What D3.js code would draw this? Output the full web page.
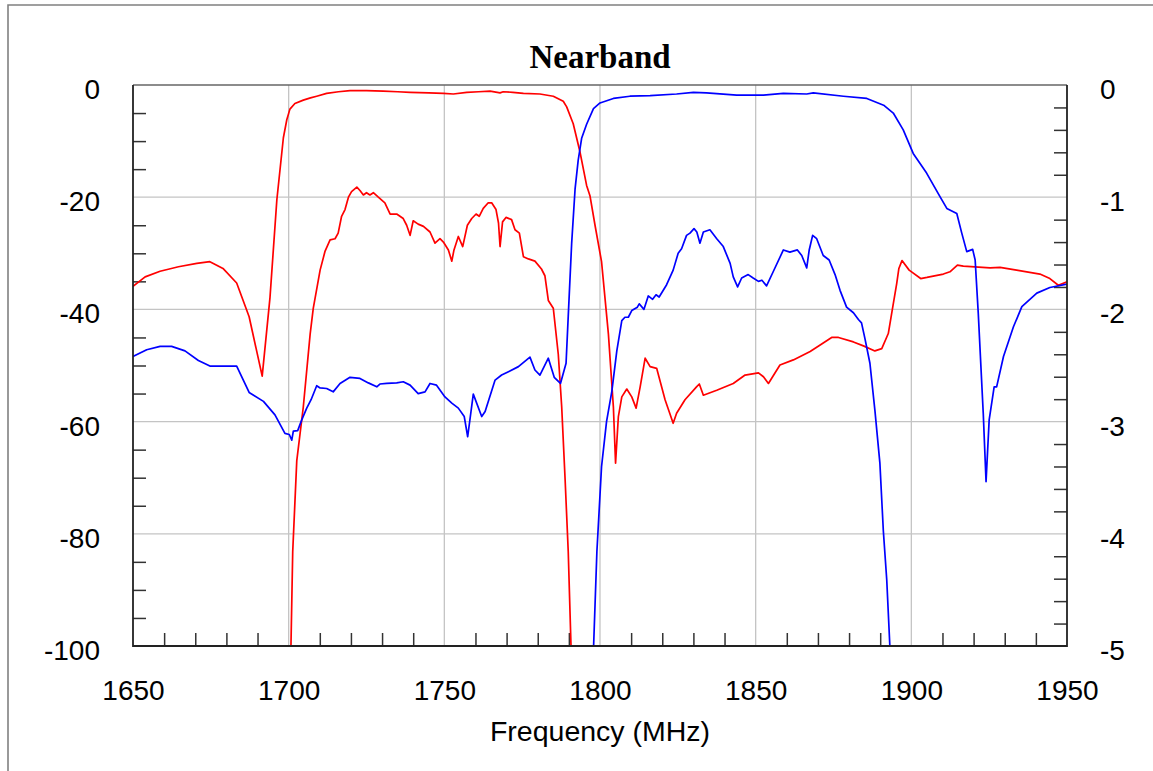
<!DOCTYPE html>
<html>
<head>
<meta charset="utf-8">
<script src="https://cdn.jsdelivr.net/npm/d3@7"></script>
<style>
  html, body { margin: 0; padding: 0; background: #fff; }
  svg { display: block; }
</style>
</head>
<body>
<svg id="chart" width="1153" height="771"></svg>
<script>
// [frequency MHz, dB] - full response of the two filters, left axis
const redS21 = [
  [1650,-35.9],[1653.9,-34.2],[1658.7,-33.2],[1664.6,-32.4],[1670.5,-31.8],[1674.7,-31.5],[1678.9,-32.7],
  [1683.3,-35.3],[1687.3,-41.3],[1691.5,-51.9],[1694.0,-37.9],[1696.2,-20.5],[1698.3,-9.4],[1699.4,-6.2],
  [1700.4,-4.3],[1702,-3.3],[1704.7,-2.7],[1707,-2.3],[1709,-2.0],[1712.2,-1.5],[1716,-1.2],[1719.7,-1.0],
  [1725,-1.0],[1730.4,-1.1],[1735,-1.2],[1739,-1.3],[1745,-1.4],[1749.7,-1.5],[1752.9,-1.6],[1757.2,-1.3],
  [1761,-1.2],[1764.7,-1.1],[1767.9,-1.4],[1768.9,-1.2],[1772,-1.3],[1775.4,-1.5],[1780.7,-1.6],[1785,-2.0],
  [1788.2,-2.9],[1789.3,-3.9],[1791.4,-6.9],[1793.6,-12.0],[1795.7,-17.9],[1796.8,-19.8],[1798.4,-25],
  [1800.5,-31.5],[1802.7,-44.4],[1804.3,-57.4],[1805.0,-67.4],[1805.9,-59.1],[1807,-55.6],[1808.6,-54.2],
  [1810.2,-55.6],[1811.6,-57.6],[1812.9,-53.8],[1814.5,-48.7],[1816.1,-50.2],[1818.2,-50.5],[1820.9,-56.1],
  [1823.5,-60.3],[1824.6,-58.5],[1827.3,-56.1],[1831,-53.8],[1831.9,-53.3],[1833.2,-55.3],[1837.5,-54.4],
  [1842.8,-53.2],[1846.6,-51.7],[1850.9,-51.3],[1852.5,-52.0],[1854.1,-53.2],[1857.8,-49.9],[1862.1,-49.0],
  [1867.5,-47.5],[1871.7,-46.0],[1874.4,-45.0],[1876.6,-45.0],[1881.4,-45.8],[1884.6,-46.5],[1888.3,-47.4],
  [1890.5,-47.0],[1892.6,-44.3],[1894.2,-39],[1895.3,-35.4],[1896.0,-32.7],[1897.0,-31.3],[1899.3,-33.0],
  [1903,-34.5],[1905,-34.3],[1910.3,-33.7],[1912.4,-33.3],[1914.8,-32.1],[1916.7,-32.3],[1925.3,-32.6],
  [1928.5,-32.5],[1933.8,-33.0],[1941.3,-33.7],[1944.5,-34.5],[1947.2,-35.7],[1950,-35.1]
];

const blueS21 = [
  [1650,-48.4],[1654.4,-47.2],[1658.7,-46.6],[1662.4,-46.6],[1666.7,-47.4],[1671,-49.1],[1674.7,-50.1],
  [1683.3,-50.1],[1687.3,-54.8],[1691.9,-56.4],[1695.6,-58.8],[1698.8,-62.1],[1700.2,-62.3],[1701,-63.3],
  [1701.5,-61.7],[1702.9,-61.6],[1704.2,-59.7],[1705.8,-57.6],[1707.2,-56.1],[1709,-53.6],[1710.1,-54.0],
  [1712.2,-54.1],[1714.3,-54.7],[1716.5,-53.2],[1719.7,-52.1],[1722.9,-52.3],[1725.6,-53.1],[1728.3,-53.8],
  [1729.3,-53.3],[1731.5,-53.2],[1734.7,-53.1],[1736.8,-52.9],[1739,-53.5],[1741.6,-55.0],[1743.8,-54.7],
  [1745.4,-53.2],[1747.5,-53.5],[1750.2,-55.6],[1752.4,-56.7],[1754.5,-57.6],[1756.4,-59.1],[1757.5,-62.7],
  [1759.3,-55.1],[1762,-59.1],[1763.1,-58.2],[1766.3,-52.6],[1768.4,-51.7],[1770.6,-51.1],[1773.8,-50.2],
  [1777.5,-48.5],[1779.1,-50.8],[1780.7,-51.7],[1783.4,-48.7],[1785.3,-52.1],[1787.3,-53.2],[1789.1,-49.6],
  [1789.8,-41.2],[1790.9,-28.2],[1792,-18.5],[1793,-13.4],[1794.1,-9.5],[1795.7,-7.0],[1797.9,-4.2],
  [1800,-3.2],[1804.3,-2.4],[1809.6,-2.0],[1816.1,-1.9],[1824.6,-1.6],[1830,-1.3],[1834.2,-1.4],
  [1843.9,-1.8],[1852.5,-1.8],[1858.9,-1.5],[1866.4,-1.6],[1868.5,-1.4],[1878.2,-2.0],[1885.7,-2.4],
  [1891.1,-3.6],[1894.2,-5.0],[1897.4,-8.0],[1900.6,-12.2],[1904.9,-15.7],[1909.2,-19.9],[1911.4,-22],
  [1914.6,-22.9],[1916.2,-26.4],[1917.8,-29.7],[1919.7,-29.3],[1920.5,-31.2],[1921.5,-40.7],[1923.1,-58.5],
  [1924,-70.7],[1925,-59.7],[1926.6,-53.8],[1927.4,-53.8],[1929.6,-48.4],[1932.8,-43.1],[1935.5,-39.5],
  [1940.3,-37.1],[1944.5,-36.1],[1950,-35.5]
];

// [frequency MHz, dB] - passband insertion loss, right axis
const redIL = [
  [1700.6,-5.2],[1701.3,-4.16],[1702.6,-3.35],[1704.7,-2.87],[1706.9,-2.22],[1707.9,-1.99],[1710.1,-1.65],
  [1711.7,-1.48],[1713.3,-1.38],[1714.9,-1.37],[1715.9,-1.32],[1717,-1.17],[1718.1,-1.11],[1719.2,-1.0],
  [1720.2,-0.95],[1721.9,-0.91],[1722.9,-0.94],[1724,-0.98],[1725,-0.96],[1726.1,-0.98],[1727.2,-0.96],
  [1728.8,-1.0],[1730.9,-1.05],[1732.6,-1.15],[1734.7,-1.15],[1736.8,-1.19],[1737.9,-1.25],[1739,-1.34],
  [1740,-1.21],[1741.6,-1.24],[1743.3,-1.26],[1745.4,-1.31],[1747,-1.41],[1748.6,-1.37],[1749.7,-1.40],
  [1751.3,-1.47],[1752.4,-1.57],[1753.1,-1.47],[1754.5,-1.35],[1755.9,-1.44],[1757.4,-1.25],[1758.8,-1.19],
  [1760.2,-1.15],[1761.2,-1.17],[1762.5,-1.1],[1764.1,-1.05],[1765.2,-1.05],[1766.6,-1.11],[1767.4,-1.23],
  [1767.9,-1.44],[1768.7,-1.22],[1769.8,-1.18],[1771.6,-1.2],[1772.7,-1.29],[1774.1,-1.32],[1775.4,-1.53],
  [1777,-1.55],[1779.1,-1.57],[1781.2,-1.64],[1782.3,-1.70],[1783.4,-1.92],[1785,-1.99],[1786.6,-2.4],
  [1787.7,-2.87],[1788.8,-3.52],[1789.8,-4.16],[1790.9,-5.2]
];

const blueIL = [
  [1797.7,-5.2],[1799,-4.16],[1800.5,-3.4],[1802.1,-3.0],[1803.8,-2.73],[1805.4,-2.37],[1807,-2.1],
  [1808,-2.07],[1809.1,-2.07],[1810.2,-2.01],[1812,-1.98],[1812.6,-1.95],[1814.1,-2.0],[1815.5,-1.88],
  [1816.9,-1.91],[1818,-1.87],[1819,-1.89],[1821.4,-1.78],[1823.5,-1.65],[1825.1,-1.5],[1826.2,-1.46],
  [1827.8,-1.34],[1828.9,-1.32],[1830.2,-1.28],[1831.1,-1.31],[1832.1,-1.41],[1833.2,-1.31],[1835.3,-1.29],
  [1837.5,-1.37],[1839.6,-1.44],[1841.8,-1.59],[1842.8,-1.71],[1844.2,-1.80],[1845.5,-1.72],[1847.6,-1.69],
  [1849.2,-1.72],[1850.9,-1.75],[1852,-1.74],[1853.5,-1.79],[1855.7,-1.66],[1858.9,-1.47],[1861,-1.49],
  [1863.4,-1.47],[1864.8,-1.52],[1866.4,-1.63],[1867.2,-1.47],[1868.3,-1.34],[1869.6,-1.37],[1871.7,-1.52],
  [1873.6,-1.56],[1875.5,-1.69],[1877.1,-1.83],[1879.2,-1.98],[1881.4,-2.03],[1883,-2.09],[1884,-2.12],
  [1885.1,-2.26],[1886.7,-2.48],[1888.3,-2.9],[1889.9,-3.37],[1891,-3.97],[1892.1,-4.41],[1893.1,-5.0],
  [1893.4,-5.2]
];

// tick labels
const xTicks = [1650, 1700, 1750, 1800, 1850, 1900, 1950];
const yLeftTicks = [0, -20, -40, -60, -80, -100];
const yRightTicks = [0, -1, -2, -3, -4, -5];

const title = 'Nearband';
const xTitle = 'Frequency (MHz)';

const svg = d3.select('#chart');
const plot = { left: 133, right: 1067, top: 85, bottom: 646 };

const x = d3.scaleLinear().domain([1650, 1950]).range([plot.left, plot.right]);
const yL = d3.scaleLinear().domain([-100, 0]).range([plot.bottom, plot.top]);
const yR = d3.scaleLinear().domain([-5, 0]).range([plot.bottom, plot.top]);

// outer frame (runs off the page on the right and bottom)
svg.append('path')
  .attr('d', 'M8,771 L8,5 L1153,5')
  .attr('fill', 'none').attr('stroke', '#808080').attr('stroke-width', 1.6);

// title
svg.append('text')
  .attr('x', 600).attr('y', 68)
  .attr('text-anchor', 'middle')
  .attr('font-family', '"Liberation Serif", "Times New Roman", serif')
  .attr('font-weight', 'bold').attr('font-size', 33)
  .text(title);

// grid
const grid = svg.append('g').attr('stroke', '#c4c4c4').attr('stroke-width', 1.3);
grid.selectAll('.gx').data(xTicks.slice(1, -1)).join('line')
  .attr('x1', d => x(d)).attr('x2', d => x(d))
  .attr('y1', plot.top).attr('y2', plot.bottom);
grid.selectAll('.gy').data(yLeftTicks.slice(1, -1)).join('line')
  .attr('x1', plot.left).attr('x2', plot.right)
  .attr('y1', d => yL(d)).attr('y2', d => yL(d));

// minor ticks via axes, drawn inside the frame
const minorX = d3.range(1660, 1950, 10).filter(d => d % 50 !== 0);
const minorL = d3.range(-95, 0, 5).filter(d => d % 20 !== 0);
const minorR = d3.range(-4.8, -0.1, 0.2).map(d => +d.toFixed(1)).filter(d => Math.abs(d % 1) > 0.01);

function styleMinor(g) {
  g.select('.domain').remove();
  g.selectAll('line').attr('stroke', '#333').attr('stroke-width', 1.5);
  g.selectAll('text').remove();
}

svg.append('g').attr('transform', `translate(0,${plot.bottom})`)
  .call(d3.axisBottom(x).tickValues(minorX).tickSize(-13)).call(styleMinor);
svg.append('g').attr('transform', `translate(${plot.left},0)`)
  .call(d3.axisLeft(yL).tickValues(minorL).tickSize(-13)).call(styleMinor);
svg.append('g').attr('transform', `translate(${plot.right},0)`)
  .call(d3.axisRight(yR).tickValues(minorR).tickSize(-13)).call(styleMinor);

// data lines
const clip = svg.append('clipPath').attr('id', 'clip').append('rect')
  .attr('x', plot.left).attr('y', plot.top)
  .attr('width', plot.right - plot.left).attr('height', plot.bottom - plot.top);

const lineL = d3.line().x(d => x(d[0])).y(d => yL(d[1]));
const lineR = d3.line().x(d => x(d[0])).y(d => yR(d[1]));

const series = [
  { data: redS21, line: lineL, color: '#ff0000' },
  { data: redIL, line: lineR, color: '#ff0000' },
  { data: blueS21, line: lineL, color: '#0000ff' },
  { data: blueIL, line: lineR, color: '#0000ff' }
];

const lines = svg.append('g').attr('clip-path', 'url(#clip)');
lines.selectAll('path').data(series).join('path')
  .attr('d', s => s.line(s.data))
  .attr('fill', 'none')
  .attr('stroke', s => s.color)
  .attr('stroke-width', 1.7)
  .attr('stroke-linejoin', 'round');

// plot frame
svg.append('line')
  .attr('x1', plot.left).attr('x2', plot.right).attr('y1', plot.top).attr('y2', plot.top)
  .attr('stroke', '#666').attr('stroke-width', 1.5);
svg.append('path')
  .attr('d', `M${plot.left},${plot.top} V${plot.bottom} H${plot.right} V${plot.top}`)
  .attr('fill', 'none').attr('stroke', '#222').attr('stroke-width', 1.8);

// tick labels
const font = '"Liberation Sans", Arial, sans-serif';
function styleLabels(g) {
  g.select('.domain').remove();
  g.selectAll('line').remove();
  g.selectAll('text').attr('font-family', font).attr('font-size', 28).attr('fill', '#000');
}

svg.append('g').attr('transform', `translate(0,${plot.bottom})`)
  .call(d3.axisBottom(x).tickValues(xTicks).tickSize(0).tickPadding(34).tickFormat(d3.format('d')))
  .call(styleLabels);
svg.append('g').attr('transform', `translate(${plot.left},0)`)
  .call(d3.axisLeft(yL).tickValues(yLeftTicks).tickSize(0).tickPadding(33).tickFormat(d => d === 0 ? '0' : d))
  .call(styleLabels)
  .selectAll('text').attr('dy', '0.48em');
svg.append('g').attr('transform', `translate(${plot.right},0)`)
  .call(d3.axisRight(yR).tickValues(yRightTicks).tickSize(0).tickPadding(33).tickFormat(d => d === 0 ? '0' : d))
  .call(styleLabels)
  .selectAll('text').attr('dy', '0.48em');

// axis title
svg.append('text')
  .attr('x', 600).attr('y', 741)
  .attr('text-anchor', 'middle')
  .attr('font-family', font).attr('font-size', 28.5)
  .text(xTitle);
</script>
</body>
</html>
